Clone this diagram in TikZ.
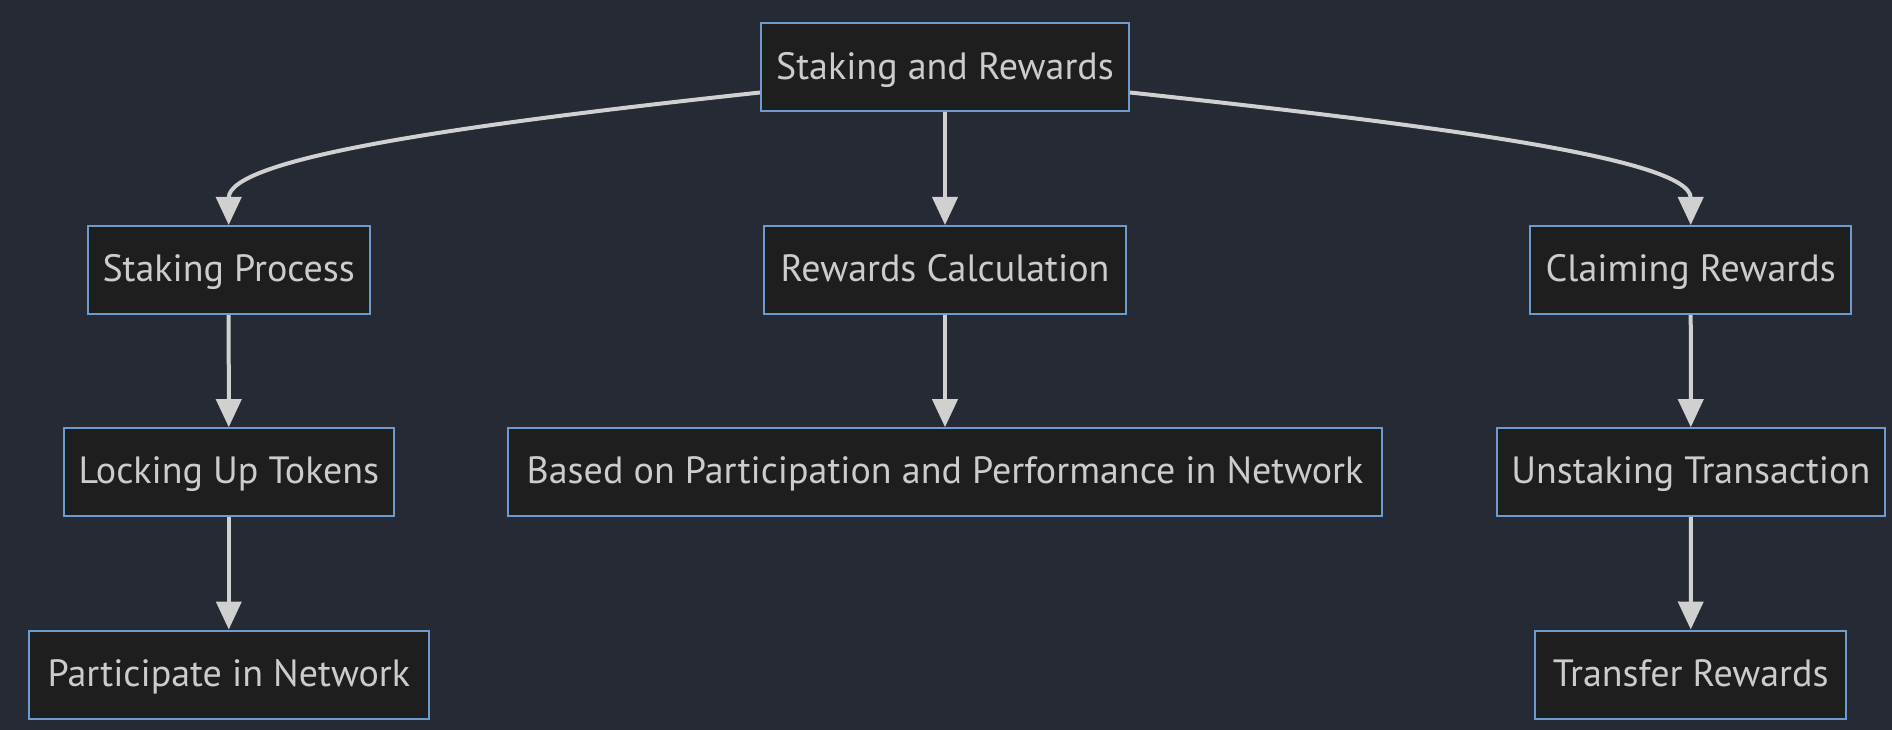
\documentclass[tikz,border=0pt]{standalone}
\usepackage{fontspec}
\setmainfont{PT Sans}
\usetikzlibrary{arrows.meta}
\definecolor{bgc}{HTML}{262A35}
\definecolor{nodefill}{HTML}{1E1E1E}
\definecolor{nodeborder}{HTML}{6C9BD0}
\definecolor{edgec}{HTML}{D0D0D0}
\definecolor{txtc}{HTML}{CCCCCC}
\tikzset{
  box/.style={draw=nodeborder, fill=nodefill, line width=2pt, text=txtc,
    minimum height=88pt, inner sep=0pt, text height=30pt, text depth=6.6pt,
    font=\fontsize{38}{46}\selectfont},
  edge/.style={draw=edgec, line width=4pt, -{Triangle[length=28pt,width=25pt]}}
}
\begin{document}
\begin{tikzpicture}[x=1pt,y=-1pt]
\fill[bgc] (0,0) rectangle (1892,730);
\useasboundingbox (0,0) rectangle (1892,730);
\node[box, minimum width=368pt] (top) at (945,67.5) {Staking and Rewards};
\node[box, minimum width=282pt] (sp) at (228.7,270) {Staking Process};
\node[box, minimum width=362pt] (rc) at (945,270) {Rewards Calculation};
\node[box, minimum width=321pt] (cr) at (1690.7,270) {Claiming Rewards};
\node[box, minimum width=330pt] (lt) at (228.8,472.2) {Locking Up Tokens};
\node[box, minimum width=874pt] (bp) at (945,472.2) {Based on Participation and Performance in Network};
\node[box, minimum width=388pt] (ut) at (1690.8,472.2) {Unstaking Transaction};
\node[box, minimum width=400pt] (pn) at (228.8,674.5) {Participate in Network};
\node[box, minimum width=311pt] (tr) at (1690.7,674.5) {Transfer Rewards};
\draw[edge] ([yshift=20pt]top.south west) .. controls (460,125) and (228.7,158) .. (sp.north);
\draw[edge] ([yshift=20pt]top.south east) .. controls (1430,125) and (1690.7,158) .. (cr.north);
\draw[edge] (top) -- (rc);
\draw[edge] (sp) -- (lt);
\draw[edge] (lt) -- (pn);
\draw[edge] (rc) -- (bp);
\draw[edge] (cr) -- (ut);
\draw[edge] (ut) -- (tr);
\end{tikzpicture}
\end{document}
